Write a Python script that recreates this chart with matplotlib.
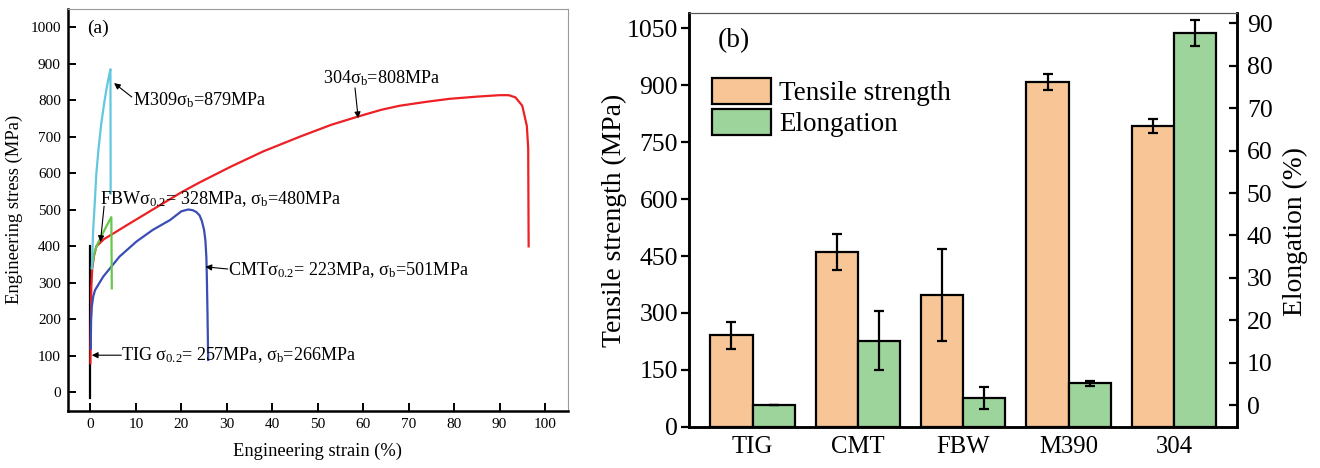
import numpy as np
import matplotlib.pyplot as plt
from matplotlib.patches import Patch

plt.rcParams['font.family'] = ['Liberation Serif', 'DejaVu Serif']
plt.rcParams['mathtext.fontset'] = 'custom'
plt.rcParams['mathtext.rm'] = 'Liberation Serif'
plt.rcParams['mathtext.default'] = 'regular'

# (a) stress-strain curves
tig_strain = [0, 0, 0, 0]
tig_stress = [-15, 100, 250, 400]

ss304_strain = [0, 0.1, 0.2, 0.4, 0.8, 1.3, 3, 5, 8, 12, 16, 20, 24, 31, 38, 46, 53, 59, 64, 68,
                74, 79, 85, 90, 92, 93.5, 95, 96, 96.3, 96.4]
ss304_stress = [80, 200, 290, 340, 375, 400, 420, 435, 458, 488, 518, 548, 575, 619, 660, 700, 733, 756,
                774, 785, 796, 804, 810, 814, 814, 808, 785, 730, 670, 400]

cmt_strain = [0.05, 0.15, 0.3, 0.6, 1.0, 2.8, 6.4, 10.1, 13.7, 17.5, 20.0, 21.5, 22.5, 23.3, 24.0, 24.5,
              25.0, 25.3, 25.5, 25.6, 25.75, 25.9]
cmt_stress = [120, 200, 235, 262, 280, 317, 372, 413, 445, 472, 496, 501, 499, 494, 485, 470, 445, 415,
              370, 320, 217, 89]

fbw_strain = [0.3, 0.8, 1.5, 2.5, 3.5, 4.6, 4.7]
fbw_stress = [340, 380, 405, 430, 455, 480, 285]

m309_strain = [0.3, 0.6, 1.0, 1.3, 1.8, 2.4, 3.0, 3.5, 4.0, 4.4, 4.45]
m309_stress = [340, 445, 530, 600, 670, 738, 790, 829, 862, 885, 545]

# (b) bar data
categories = ['TIG', 'CMT', 'FBW', 'M390', '304']
tensile = [241, 460, 347, 909, 792]
tensile_err = [35, 48, 121, 22, 18]
elongation = [0.1, 15.2, 1.7, 5.1, 87.7]
elongation_err = [0, 7.0, 2.6, 0.6, 3.0]

fig = plt.figure(figsize=(13.2, 4.68), dpi=100)

# ---------------- (a)
ax = fig.add_axes([0.0513, 0.1224, 0.3788, 0.8584])
ax.plot(tig_strain, tig_stress, color='k', lw=1.6)
ax.plot(ss304_strain, ss304_stress, color='#ED2024', lw=1.6)
ax.plot(cmt_strain, cmt_stress, color='#3A4DB5', lw=1.6)
ax.plot(fbw_strain, fbw_stress, color='#66C84A', lw=1.6)
ax.plot(m309_strain, m309_stress, color='#63C7DF', lw=1.6)

ax.set_xlim(-5, 105)
ax.set_ylim(-50, 1050)
ax.set_xticks(range(0, 101, 10))
ax.set_yticks(range(0, 1001, 100))
ax.tick_params(direction='in', length=6, width=1.4, labelsize=11, pad=5)
for s in ['left', 'bottom']:
    ax.spines[s].set_linewidth(1.8)
for s in ['top', 'right']:
    ax.spines[s].set_linewidth(0.8)
    ax.spines[s].set_color('#9a9a9a')
ax.set_xlabel('Engineering strain (%)', fontsize=13.3, labelpad=9)
ax.set_ylabel('Engineering stress (MPa)', fontsize=13.4, labelpad=5)
ax.text(-0.8, 996, '(a)', fontsize=14, va='center')

arrow = dict(arrowstyle='-|>', color='k', lw=0.8, mutation_scale=9, shrinkA=0, shrinkB=0)
fs = 13.1
ax.annotate('', xy=(5.2, 847), xytext=(9.1, 809), arrowprops=arrow)
ax.text(9.4, 800, 'M309σ$_{b}$=879MPa', fontsize=fs, va='center')
ax.annotate('', xy=(58.9, 751), xytext=(58.2, 834), arrowprops=arrow)
ax.text(51.2, 861, '304σ$_{b}$=808MPa', fontsize=fs, va='center')
ax.annotate('', xy=(2.2, 412), xytext=(3.0, 510), arrowprops=arrow)
ax.text(2.1, 530, 'FBWσ$_{0.2}$= 328MPa, σ$_{b}$=480MPa', fontsize=fs, va='center')
ax.annotate('', xy=(25.3, 344), xytext=(30.2, 338), arrowprops=arrow)
ax.text(30.2, 335, 'CMTσ$_{0.2}$= 223MPa, σ$_{b}$=501MPa', fontsize=fs, va='center')
ax.annotate('', xy=(0.3, 102), xytext=(6.8, 102), arrowprops=arrow)
ax.text(6.8, 102, 'TIG σ$_{0.2}$= 257MPa, σ$_{b}$=266MPa', fontsize=fs, va='center')

# ---------------- (b)
orange = '#F8C696'
green = '#9DD49C'
x = np.arange(len(categories))
w = 0.4

bx = fig.add_axes([0.5222, 0.0882, 0.4151, 0.8834])
bx2 = bx.twinx()

bx.bar(x - w / 2, tensile, w, color=orange, edgecolor='k', lw=1.6, zorder=2)
bx.errorbar(x - w / 2, tensile, yerr=tensile_err, fmt='none', ecolor='k', elinewidth=1.6,
            capsize=3.5, capthick=1.6, zorder=3)

e_low = -5.1
bx2.bar(x + w / 2, np.array(elongation) - e_low, w, bottom=e_low, color=green, edgecolor='k',
        lw=1.6, zorder=2)
bx2.errorbar(x + w / 2, elongation, yerr=elongation_err, fmt='none', ecolor='k', elinewidth=1.6,
             capsize=3.5, capthick=1.6, zorder=3)

bx.set_xlim(-0.6, 4.6)
bx.set_ylim(0, 1090)
bx.set_yticks(range(0, 1051, 150))
bx2.set_ylim(e_low, 92.4)
bx2.set_yticks(range(0, 91, 10))
bx.set_xticks(x)
bx.set_xticklabels(categories)
bx.tick_params(axis='x', length=0, labelsize=17.8, pad=7)
bx.tick_params(axis='y', direction='out', length=6, width=1.6, labelsize=18.5, pad=2)
bx2.tick_params(axis='y', direction='in', length=6, width=1.6, labelsize=18.5, pad=7)

for a in [bx, bx2]:
    for s in ['left', 'bottom', 'right']:
        a.spines[s].set_linewidth(1.8)
    a.spines['top'].set_linewidth(0.8)
    a.spines['top'].set_color('#555555')

bx.set_ylabel('Tensile strength (MPa)', fontsize=19.9, labelpad=0)
bx2.set_ylabel('Elongation (%)', fontsize=19.8)
bx2.yaxis.set_label_coords(1.083, 0.473)
bx.text(0.052, 0.935, '(b)', transform=bx.transAxes, fontsize=19.7, va='center')

handles = [Patch(facecolor=orange, edgecolor='k', lw=1.6),
           Patch(facecolor=green, edgecolor='k', lw=1.6)]
bx.legend(handles, ['Tensile strength', 'Elongation'], loc='upper left',
          bbox_to_anchor=(0.041, 0.843), frameon=False, fontsize=19.5, borderpad=0,
          borderaxespad=0, handlelength=2.2, handleheight=1.1, handletextpad=0.3,
          labelspacing=0.1)

fig.savefig('out.png', dpi=100)
